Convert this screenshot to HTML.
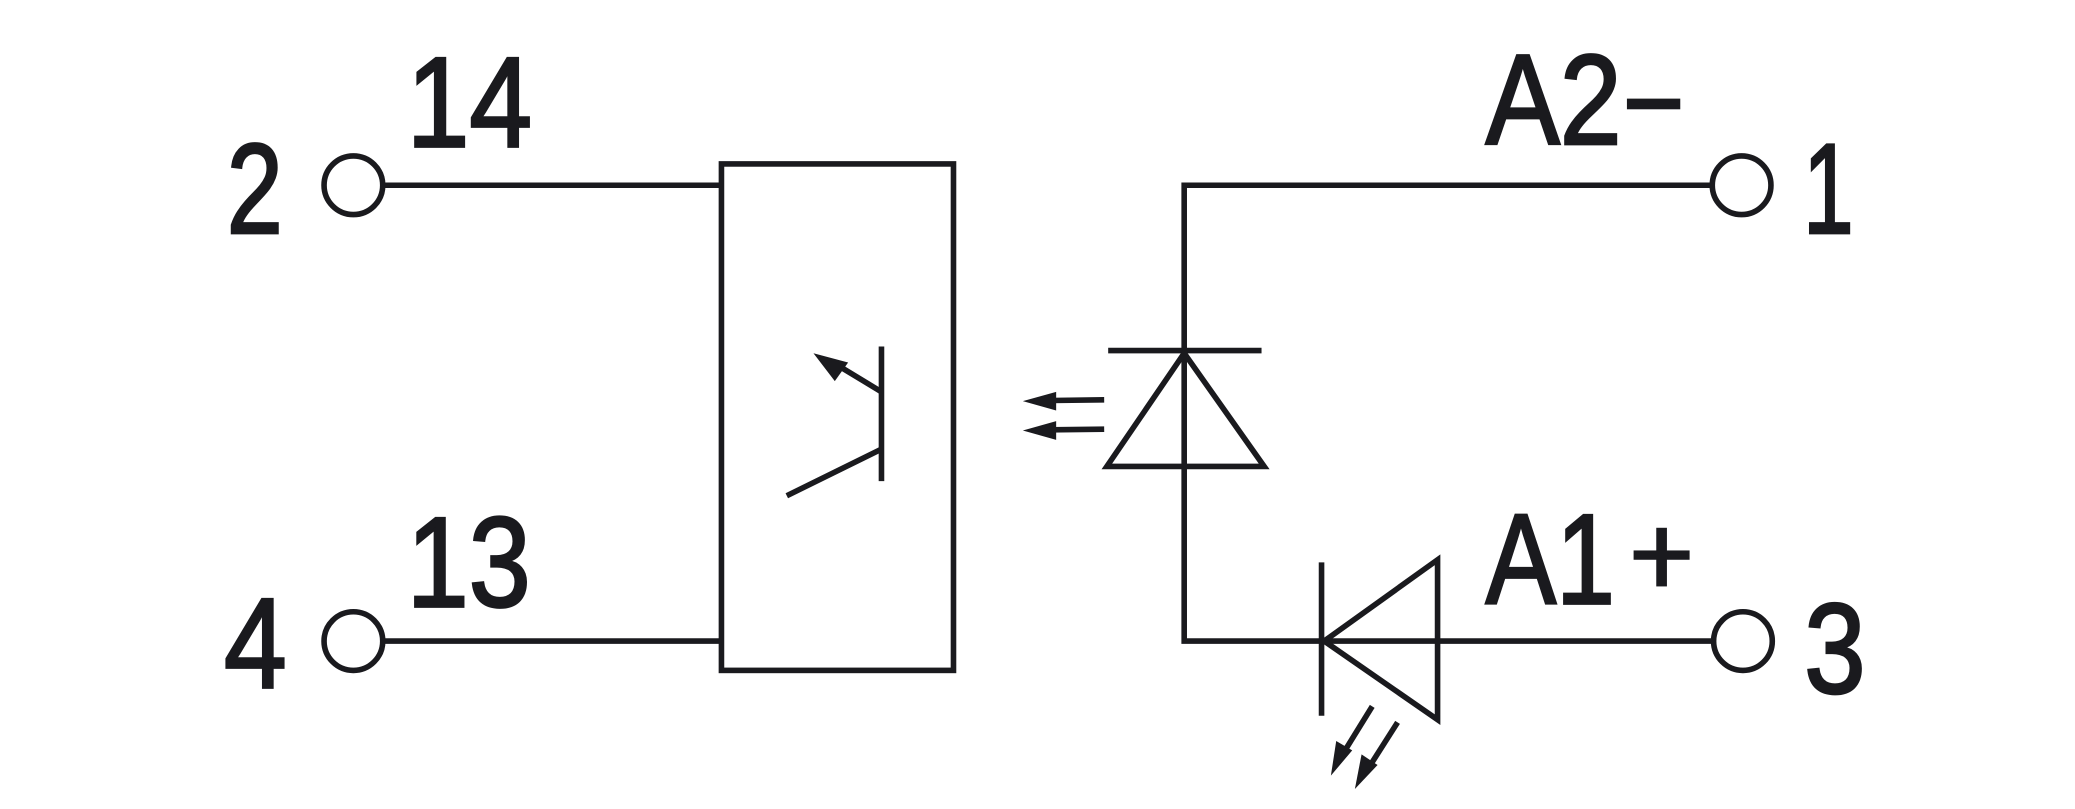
<!DOCTYPE html>
<html><head><meta charset="utf-8"><style>html,body{margin:0;padding:0;background:#fff}svg{display:block}</style></head>
<body>
<svg width="2075" height="809" viewBox="0 0 1556 607" preserveAspectRatio="none" xmlns="http://www.w3.org/2000/svg">
<g fill="none" stroke="#1a1a1e" stroke-width="4.2">
<circle cx="265" cy="139" r="22"/>
<circle cx="265" cy="481" r="22"/>
<circle cx="1306" cy="139" r="22"/>
<circle cx="1307" cy="481" r="22"/>
<line x1="287" y1="139" x2="541" y2="139"/>
<line x1="287" y1="481" x2="541" y2="481"/>
<rect x="541" y="123" width="174" height="380"/>
<polyline points="1284,139 888,139 888,481 1285,481"/>
<line x1="831" y1="263" x2="946" y2="263"/>
<polygon points="888,265 830,350 948,350"/>
<line x1="828" y1="300" x2="788" y2="300.5"/>
<line x1="828" y1="322" x2="788" y2="322.5"/>
<line x1="661" y1="260" x2="661" y2="361"/>
<line x1="661" y1="337" x2="590" y2="372"/>
<line x1="661" y1="294" x2="628" y2="274"/>
<line x1="991" y1="422" x2="991" y2="537"/>
<polygon points="993,481 1078,420 1078,540"/>
<line x1="1029" y1="530" x2="1008" y2="564"/>
<line x1="1048" y1="542" x2="1027" y2="575"/>
</g>
<g fill="#1a1a1e">
<polygon points="767,301 792,294 792,308"/>
<polygon points="767,323 792,316 792,330"/>
<polygon points="610,265 636,272 626,286"/>
<polygon points="998,582 1002,556 1014,563"/>
<polygon points="1016,592 1021,566 1033,574"/>
</g>
<g font-family="Liberation Sans, sans-serif" font-size="96" fill="#1a1a1e" stroke="#1a1a1e" stroke-width="2">
<text x="170" y="175" textLength="42" lengthAdjust="spacingAndGlyphs">2</text>
<text x="305" y="110" textLength="94" lengthAdjust="spacingAndGlyphs">14</text>
<text x="305" y="455" textLength="93" lengthAdjust="spacingAndGlyphs">13</text>
<text x="168" y="516" textLength="47" lengthAdjust="spacingAndGlyphs">4</text>
<text x="1114" y="108" textLength="102" lengthAdjust="spacingAndGlyphs">A2</text>
<text x="1352" y="175" textLength="38" lengthAdjust="spacingAndGlyphs">1</text>
<text x="1114" y="453" textLength="97" lengthAdjust="spacingAndGlyphs">A1</text>
<text x="1353" y="520" textLength="46" lengthAdjust="spacingAndGlyphs">3</text>
</g>
<g fill="#1a1a1e">
<rect x="1220" y="74" width="40" height="8"/>
<rect x="1225" y="413" width="42" height="7"/>
<rect x="1242" y="396" width="8" height="44"/>
</g>
</svg>
</body></html>
